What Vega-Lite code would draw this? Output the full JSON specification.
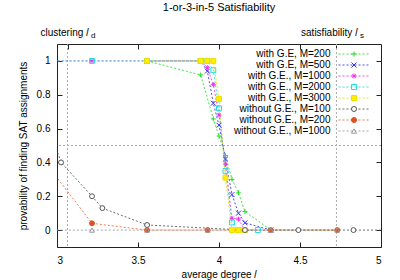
{
  "$schema": "https://vega.github.io/schema/vega-lite/v6.json",
  "width": 324,
  "height": 203,
  "autosize": {"type": "none"},
  "padding": {"left": 57, "top": 44, "right": 19, "bottom": 33},
  "background": "white",
  "config": {
    "font": "Liberation Sans",
    "view": {"stroke": "#222", "strokeWidth": 1},
    "axis": {
      "labelFont": "Liberation Sans", "labelFontSize": 10, "labelColor": "#000",
      "titleFont": "Liberation Sans", "titleFontSize": 10, "titleFontWeight": "normal", "titleColor": "#000",
      "domain": false, "grid": false, "tickColor": "#222", "tickSize": -5
    },
    "legend": {"labelFont": "Liberation Sans", "labelFontSize": 10, "labelColor": "#000"}
  },
  "title": {"text": "1-or-3-in-5 Satisfiability", "fontSize": 11, "fontWeight": "normal", "font": "Liberation Sans", "color": "#000", "offset": 14},
  "data": {"values": [
    {"s": "with G.E, M=200", "x": 3.556, "y": 1},
    {"s": "with G.E, M=200", "x": 3.887, "y": 0.917},
    {"s": "with G.E, M=200", "x": 3.965, "y": 0.657},
    {"s": "with G.E, M=200", "x": 4.0, "y": 0.556},
    {"s": "with G.E, M=200", "x": 4.04, "y": 0.44},
    {"s": "with G.E, M=200", "x": 4.08, "y": 0.30},
    {"s": "with G.E, M=200", "x": 4.12, "y": 0.22},
    {"s": "with G.E, M=200", "x": 4.16, "y": 0.11},
    {"s": "with G.E, M=200", "x": 4.32, "y": 0},
    {"s": "with G.E, M=200", "x": 4.49, "y": 0},
    {"s": "with G.E, M=200", "x": 4.73, "y": 0},
    {"s": "with G.E, M=500", "x": 3.556, "y": 1},
    {"s": "with G.E, M=500", "x": 3.887, "y": 1},
    {"s": "with G.E, M=500", "x": 3.928, "y": 0.94},
    {"s": "with G.E, M=500", "x": 3.965, "y": 0.75},
    {"s": "with G.E, M=500", "x": 4.0, "y": 0.62},
    {"s": "with G.E, M=500", "x": 4.04, "y": 0.42},
    {"s": "with G.E, M=500", "x": 4.08, "y": 0.21},
    {"s": "with G.E, M=500", "x": 4.12, "y": 0.10},
    {"s": "with G.E, M=500", "x": 4.16, "y": 0.043},
    {"s": "with G.E, M=500", "x": 4.32, "y": 0},
    {"s": "with G.E., M=1000", "x": 2.88, "y": 1},
    {"s": "with G.E., M=1000", "x": 3.216, "y": 1},
    {"s": "with G.E., M=1000", "x": 3.556, "y": 1},
    {"s": "with G.E., M=1000", "x": 3.887, "y": 1},
    {"s": "with G.E., M=1000", "x": 3.928, "y": 0.96},
    {"s": "with G.E., M=1000", "x": 3.965, "y": 0.86},
    {"s": "with G.E., M=1000", "x": 4.0, "y": 0.68},
    {"s": "with G.E., M=1000", "x": 4.04, "y": 0.39},
    {"s": "with G.E., M=1000", "x": 4.08, "y": 0.07},
    {"s": "with G.E., M=1000", "x": 4.12, "y": 0.065},
    {"s": "with G.E., M=1000", "x": 4.16, "y": 0},
    {"s": "with G.E., M=2000", "x": 2.88, "y": 1},
    {"s": "with G.E., M=2000", "x": 3.216, "y": 1},
    {"s": "with G.E., M=2000", "x": 3.556, "y": 1},
    {"s": "with G.E., M=2000", "x": 3.887, "y": 1},
    {"s": "with G.E., M=2000", "x": 3.928, "y": 1},
    {"s": "with G.E., M=2000", "x": 3.965, "y": 0.945},
    {"s": "with G.E., M=2000", "x": 4.0, "y": 0.72},
    {"s": "with G.E., M=2000", "x": 4.04, "y": 0.35},
    {"s": "with G.E., M=2000", "x": 4.08, "y": 0.045},
    {"s": "with G.E., M=2000", "x": 4.12, "y": 0},
    {"s": "with G.E., M=2000", "x": 4.24, "y": 0},
    {"s": "with G.E., M=3000", "x": 3.556, "y": 1},
    {"s": "with G.E., M=3000", "x": 3.887, "y": 1},
    {"s": "with G.E., M=3000", "x": 3.928, "y": 1},
    {"s": "with G.E., M=3000", "x": 3.965, "y": 1},
    {"s": "with G.E., M=3000", "x": 4.0, "y": 0.775},
    {"s": "with G.E., M=3000", "x": 4.04, "y": 0.31},
    {"s": "with G.E., M=3000", "x": 4.08, "y": 0},
    {"s": "with G.E., M=3000", "x": 4.12, "y": 0},
    {"s": "with G.E., M=3000", "x": 4.16, "y": 0},
    {"s": "without G.E., M=100", "x": 2.9, "y": 0.75},
    {"s": "without G.E., M=100", "x": 3.025, "y": 0.40},
    {"s": "without G.E., M=100", "x": 3.216, "y": 0.20},
    {"s": "without G.E., M=100", "x": 3.28, "y": 0.13},
    {"s": "without G.E., M=100", "x": 3.556, "y": 0.03},
    {"s": "without G.E., M=100", "x": 4.16, "y": 0},
    {"s": "without G.E., M=100", "x": 4.49, "y": 0},
    {"s": "without G.E., M=100", "x": 4.83, "y": 0},
    {"s": "without G.E., M=100", "x": 5.1, "y": 0},
    {"s": "without G.E., M=200", "x": 2.9, "y": 0.435},
    {"s": "without G.E., M=200", "x": 3.216, "y": 0.04},
    {"s": "without G.E., M=200", "x": 3.556, "y": 0},
    {"s": "without G.E., M=200", "x": 3.93, "y": 0},
    {"s": "without G.E., M=200", "x": 4.32, "y": 0},
    {"s": "without G.E., M=200", "x": 4.73, "y": 0},
    {"s": "without G.E., M=1000", "x": 2.9, "y": 0},
    {"s": "without G.E., M=1000", "x": 3.216, "y": 0},
    {"s": "without G.E., M=1000", "x": 3.556, "y": 0},
    {"s": "without G.E., M=1000", "x": 3.93, "y": 0},
    {"s": "without G.E., M=1000", "x": 4.32, "y": 0},
    {"s": "without G.E., M=1000", "x": 4.73, "y": 0}
  ]},
  "resolve": {"axis": {"x": "independent", "y": "independent"}},
  "layer": [
    {
      "data": {"values": [{"l": 3.065}, {"l": 4.725}]},
      "mark": {"type": "rule", "stroke": "#aaa", "strokeDash": [2, 2], "strokeWidth": 1},
      "encoding": {
        "x": {"field": "l", "type": "quantitative",
          "scale": {"domain": [3, 5], "nice": false, "zero": false},
          "axis": {"orient": "top", "title": null, "values": [3.065, 3.5, 4, 4.5, 4.725],
            "labelExpr": "datum.value == 3.065 ? 'clustering 𝑙' : datum.value == 4.725 ? 'satisfiability 𝑙' : ''",
            "labelAlign": "right", "labelOffset": 21, "labelPadding": 12}}
      }
    },
    {
      "data": {"values": [{"l": 3.065}, {"l": 4.725}]},
      "mark": {"type": "rule", "strokeOpacity": 0},
      "encoding": {
        "x": {"field": "l", "type": "quantitative",
          "axis": {"orient": "top", "title": null, "values": [3.065, 4.725], "ticks": false,
            "labelExpr": "datum.value == 3.065 ? 'd' : 's'",
            "labelAlign": "left", "labelOffset": 23, "labelPadding": 5, "labelFontSize": 8}}
      }
    },
    {
      "data": {"values": [{"p": 0.5}]},
      "mark": {"type": "rule", "stroke": "#aaa", "strokeDash": [2, 2], "strokeWidth": 1},
      "encoding": {
        "y": {"field": "p", "type": "quantitative",
          "scale": {"domain": [-0.1, 1.1], "nice": false, "zero": false},
          "axis": {"orient": "right", "title": null, "values": [0, 0.2, 0.4, 0.6, 0.8, 1], "labels": false}}
      }
    },
    {
      "mark": {"type": "line", "clip": true, "strokeWidth": 1, "strokeDash": [2, 2], "opacity": 0.85},
      "encoding": {
        "x": {"field": "x", "type": "quantitative",
          "axis": {"orient": "bottom", "title": "average degree 𝑙", "values": [3, 3.5, 4, 4.5, 5], "format": "~g", "labelPadding": 13, "titlePadding": 4}},
        "y": {"field": "y", "type": "quantitative",
          "axis": {"orient": "left", "title": "provability of finding SAT assignments", "values": [0, 0.2, 0.4, 0.6, 0.8, 1], "format": "~g", "labelPadding": 12, "titlePadding": 8}},
        "color": {"field": "s", "type": "nominal",
          "scale": {
            "domain": ["with G.E, M=200", "with G.E, M=500", "with G.E., M=1000", "with G.E., M=2000", "with G.E., M=3000", "without G.E., M=100", "without G.E., M=200", "without G.E., M=1000", " "],
            "range": ["#22dd22", "#3333ee", "#ee33ee", "#22dddd", "#eedd00", "#555555", "#ee6633", "#999999", "transparent"]},
          "legend": {"orient": "none", "legendX": 291.5, "legendY": 5, "title": null,
            "values": ["with G.E, M=200", "with G.E, M=500", "with G.E., M=1000", "with G.E., M=2000", "with G.E., M=3000", "without G.E., M=100", "without G.E., M=200", "without G.E., M=1000"],
            "symbolType": "M-5,0H5", "symbolSize": 36, "symbolStrokeWidth": 1, "symbolDash": [2, 2],
            "rowPadding": 1, "labelAlign": "right", "labelOffset": -28, "labelLimit": 0}}
      }
    },
    {
      "mark": {"type": "point", "clip": true, "filled": false, "strokeWidth": 1, "size": 24, "opacity": 1},
      "encoding": {
        "x": {"field": "x", "type": "quantitative", "axis": null},
        "y": {"field": "y", "type": "quantitative", "axis": null},
        "shape": {"field": "s", "type": "nominal",
          "scale": {
            "domain": ["with G.E, M=200", "with G.E, M=500", "with G.E., M=1000", "with G.E., M=2000", "with G.E., M=3000", "without G.E., M=100", "without G.E., M=200", "without G.E., M=1000"],
            "range": ["M-1,0H1M0,-1V1", "M-1,-1L1,1M-1,1L1,-1", "M-1,0H1M0,-1V1M-0.7,-0.7L0.7,0.7M-0.7,0.7L0.7,-0.7", "square", "square", "circle", "circle", "triangle-up"]},
          "legend": {"orient": "none", "legendX": 292, "legendY": 5, "title": null,
            "symbolSize": 25, "symbolStrokeWidth": 1, "rowPadding": 1, "labelExpr": "''", "labelLimit": 0}},
        "stroke": {"field": "s", "type": "nominal",
          "scale": {
            "domain": ["with G.E, M=200", "with G.E, M=500", "with G.E., M=1000", "with G.E., M=2000", "with G.E., M=3000", "without G.E., M=100", "without G.E., M=200", "without G.E., M=1000"],
            "range": ["#22dd22", "#3333ee", "#ee33ee", "#22dddd", "#eedd00", "#555555", "#e05020", "#999999"]}},
        "fill": {"field": "s", "type": "nominal",
          "scale": {
            "domain": ["with G.E, M=200", "with G.E, M=500", "with G.E., M=1000", "with G.E., M=2000", "with G.E., M=3000", "without G.E., M=100", "without G.E., M=200", "without G.E., M=1000"],
            "range": ["transparent", "transparent", "transparent", "transparent", "#ffee00", "white", "#e05020", "transparent"]}}
      }
    }
  ]
}
